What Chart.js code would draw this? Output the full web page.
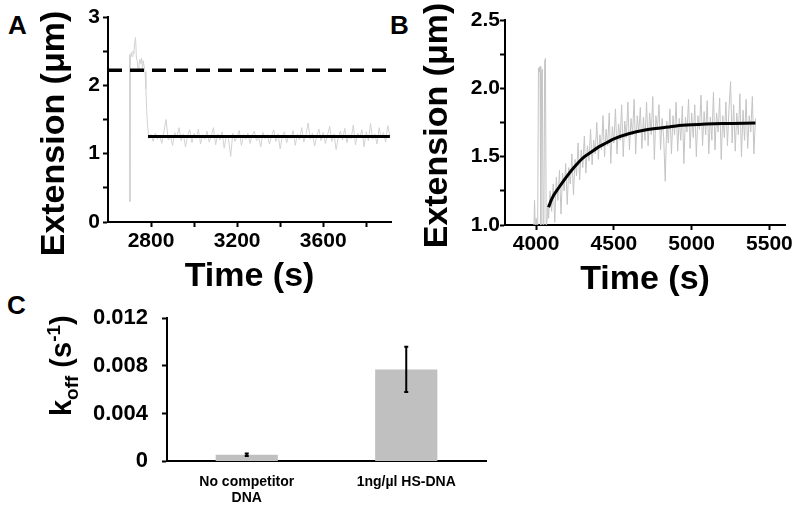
<!DOCTYPE html>
<html>
<head>
<meta charset="utf-8">
<script src="https://cdn.jsdelivr.net/npm/chart.js@4.4.0/dist/chart.umd.min.js"></script>
<style>
body { margin:0; width:800px; height:515px; background:#fff; position:relative; overflow:hidden; font-family:'Liberation Sans', Arial, sans-serif; }
canvas { position:absolute; }
.tag { position:absolute; font-weight:bold; font-size:26px; line-height:1; color:#000; }
</style>
</head>
<body>
<div class="tag" style="left:8px;top:12px">A</div>
<div class="tag" style="left:390px;top:12px">B</div>
<div class="tag" style="left:7px;top:292px">C</div>
<canvas id="chartA" width="400" height="297" style="left:0;top:0;width:400px;height:297px"></canvas>
<canvas id="chartB" width="400" height="300" style="left:400px;top:0;width:400px;height:300px"></canvas>
<canvas id="chartC" width="520" height="225" style="left:0;top:290px;width:520px;height:225px"></canvas>
<script>
// ---- panel A: extension trace before/after, with reference levels
var timeA = [2700, 2702, 2704, 2708, 2712, 2716, 2720, 2724, 2728, 2732, 2736, 2740, 2744, 2748, 2752, 2756, 2760, 2764, 2768, 2772, 2776, 2780, 2784,
  2790, 2800, 2810, 2820, 2830, 2840, 2850, 2860, 2870, 2880, 2890, 2900, 2910, 2920, 2930, 2940, 2950, 2960, 2970, 2980, 2990,
  3000, 3010, 3020, 3030, 3040, 3050, 3060, 3070, 3080, 3090, 3100, 3110, 3120, 3130, 3140, 3150, 3160, 3170, 3180, 3190,
  3200, 3210, 3220, 3230, 3240, 3250, 3260, 3270, 3280, 3290, 3300, 3310, 3320, 3330, 3340, 3350, 3360, 3370, 3380, 3390,
  3400, 3410, 3420, 3430, 3440, 3450, 3460, 3470, 3480, 3490, 3500, 3510, 3520, 3530, 3540, 3550, 3560, 3570, 3580, 3590,
  3600, 3610, 3620, 3630, 3640, 3650, 3660, 3670, 3680, 3690, 3700, 3710, 3720, 3730, 3740, 3750, 3760, 3770, 3780, 3790,
  3800, 3810, 3820, 3830, 3840, 3850, 3860, 3870, 3880, 3890, 3900, 3910];
var extA = [2.45, 0.30, 2.40, 2.48, 2.42, 2.50, 2.46, 2.62, 2.70, 2.40, 2.35, 2.22, 2.30, 2.38, 2.32, 2.40, 2.25, 2.36, 2.28, 2.20, 1.95, 1.62, 1.40,
  1.22, 1.28, 1.18, 1.30, 1.21, 1.27, 1.15, 1.33, 1.50, 1.20, 1.26, 1.12, 1.31, 1.24, 1.38, 1.19, 1.29, 1.10, 1.27, 1.35, 1.16,
  1.30, 1.22, 1.36, 1.14, 1.28, 1.21, 1.33, 1.17, 1.26, 1.38, 1.13, 1.29, 1.20, 1.32, 1.08, 1.27, 1.22, 0.96, 1.30, 1.18,
  1.25, 1.34, 1.12, 1.28, 1.21, 1.30, 1.15, 1.27, 1.33, 1.19, 1.24, 1.10, 1.31, 1.22, 1.28, 1.14, 1.26, 1.35, 1.18, 1.29,
  1.07, 1.25, 1.32, 1.16, 1.27, 1.22, 1.34, 1.12, 1.29, 1.20, 1.38, 1.17, 1.28, 1.45, 1.21, 1.30, 1.11, 1.26, 1.36, 1.19,
  1.31, 1.15, 1.27, 1.40, 1.18, 1.29, 1.06, 1.24, 1.33, 1.20, 1.37, 1.16, 1.28, 1.22, 1.42, 1.13, 1.30, 1.24, 1.35, 1.10,
  1.32, 1.19, 1.44, 1.21, 1.29, 1.14, 1.38, 1.23, 1.31, 1.17, 1.41, 1.26];
var dashTimeA = [2600, 3915];
var dashLevelA = [2.22, 2.22];
var fitTimeA = [2786, 3910];
var fitLevelA = [1.25, 1.25];
var ticksAx = [2800, 3000, 3200, 3400, 3600, 3800];
var labelsAx = [2800, 3200, 3600];
var ticksAy = [0, 0.5, 1, 1.5, 2, 2.5, 3];
var labelsAy = [0, 1, 2, 3];

// ---- panel B: recovery after competitor DNA, exponential fit
var timeB = [3985, 3990, 3995, 4000, 4010, 4015, 4020, 4025, 4030, 4035, 4040, 4045, 4050, 4055, 4060, 4065, 4070, 4075,
  4080, 4090, 4100, 4110, 4120, 4130, 4140, 4150, 4160, 4170, 4180, 4190, 4200, 4210, 4220, 4230, 4240, 4250, 4260, 4270, 4280, 4290,
  4300, 4310, 4320, 4330, 4340, 4350, 4360, 4370, 4380, 4390, 4400, 4410, 4420, 4430, 4440, 4450, 4460, 4470, 4480, 4490,
  4500, 4510, 4520, 4530, 4540, 4550, 4560, 4570, 4580, 4590, 4600, 4610, 4620, 4630, 4640, 4650, 4660, 4670, 4680, 4690,
  4700, 4710, 4720, 4730, 4740, 4750, 4760, 4770, 4780, 4790, 4800, 4810, 4820, 4830, 4840, 4850, 4860, 4870, 4880, 4890,
  4900, 4910, 4920, 4930, 4940, 4950, 4960, 4970, 4980, 4990, 5000, 5010, 5020, 5030, 5040, 5050, 5060, 5070, 5080, 5090,
  5100, 5110, 5120, 5130, 5140, 5150, 5160, 5170, 5180, 5190, 5200, 5210, 5220, 5230, 5240, 5250, 5260, 5270, 5280, 5290,
  5300, 5310, 5320, 5330, 5340, 5350, 5360, 5370, 5380, 5390, 5400, 5410];
var extB = [0.95, 1.18, 0.95, 1.05, 0.95, 2.15, 2.12, 2.16, 0.95, 2.10, 2.14, 0.95, 1.02, 2.20, 2.22, 0.95, 1.05, 1.15,
  1.05, 1.25, 1.10, 1.30, 1.02, 1.35, 1.18, 1.40, 1.08, 1.38, 1.25, 1.45, 1.15, 1.42, 1.30, 1.52, 1.22, 1.48, 1.36, 1.60, 1.33, 1.55,
  1.42, 1.65, 1.38, 1.58, 1.47, 1.70, 1.44, 1.62, 1.52, 1.75, 1.48, 1.66, 1.55, 1.80, 1.50, 1.70, 1.58, 1.82, 1.45, 1.72,
  1.60, 1.85, 1.52, 1.74, 1.62, 1.88, 1.50, 1.76, 1.64, 1.90, 1.55, 1.78, 1.66, 1.92, 1.52, 1.80, 1.68, 1.86, 1.56, 1.79,
  1.62, 1.90, 1.58, 1.82, 1.66, 1.94, 1.48, 1.80, 1.70, 1.88, 1.55, 1.78, 1.64, 1.32, 1.76, 1.60, 1.85, 1.52, 1.80, 1.66,
  1.90, 1.54, 1.78, 1.62, 1.87, 1.45, 1.79, 1.68, 1.92, 1.56, 1.82, 1.64, 1.88, 1.50, 1.80, 1.70, 1.95, 1.58, 1.83, 1.66,
  1.91, 1.52, 1.79, 1.62, 1.97, 1.55, 1.82, 1.68, 1.93, 1.48, 1.80, 1.64, 1.90, 1.58, 1.85, 2.05, 1.60, 1.88, 1.54, 1.82,
  1.66, 1.96, 1.50, 1.84, 1.62, 1.92, 1.56, 1.80, 1.68, 1.94, 1.52, 1.78];
var fitTimeB = [4080, 4100, 4150, 4200, 4250, 4300, 4350, 4400, 4450, 4500, 4600, 4700, 4800, 4900, 5000, 5200, 5410];
var fitLevelB = [1.13, 1.19, 1.28, 1.36, 1.43, 1.49, 1.53, 1.57, 1.60, 1.63, 1.67, 1.695, 1.71, 1.725, 1.733, 1.742, 1.746];
var ticksBx = [4000, 4250, 4500, 4750, 5000, 5250, 5500];
var labelsBx = [4000, 4500, 5000, 5500];
var ticksBy = [1, 1.25, 1.5, 1.75, 2, 2.25, 2.5];
var labelsBy = [1, 1.5, 2, 2.5];

// ---- panel C: off rates
var conditions = [['No competitor', 'DNA'], '1ng/µl HS-DNA'];
var koff = [0.00056, 0.0077];
var koffErr = [0.0001, 0.0019];

var FONT = "'Liberation Sans', Arial, sans-serif";
Chart.defaults.font.family = FONT;
Chart.defaults.font.weight = 'bold';
Chart.defaults.color = '#000';

function pts(xs, ys) {
  return xs.map(function (x, i) { return { x: x, y: ys[i] }; });
}
function setTicks(values) {
  return function (scale) { scale.ticks = values.map(function (v) { return { value: v }; }); };
}
function setWidth(w) {
  return function (scale) { scale.width = w; };
}
var axisBorder = { display: true, color: '#000', width: 2 };
var axisGrid = { drawOnChartArea: false, drawTicks: true, tickLength: 5, tickColor: '#000', tickWidth: 2 };

// rotated y title, placed by hand so it can sit off-centre like the original
var sideTitle = {
  id: 'sideTitle',
  afterDraw: function (chart, args, o) {
    var ctx = chart.ctx, a = chart.chartArea;
    ctx.save();
    ctx.font = 'bold ' + o.size + 'px ' + FONT;
    ctx.fillStyle = '#000';
    ctx.textAlign = 'center';
    ctx.textBaseline = 'middle';
    ctx.translate(o.x, (a.top + a.bottom) / 2 + o.shift);
    ctx.rotate(-Math.PI / 2);
    ctx.fillText(o.text, 0, 0);
    ctx.restore();
  }
};

new Chart(document.getElementById('chartA'), {
  type: 'line',
  data: {
    datasets: [
      { data: pts(dashTimeA, dashLevelA), borderColor: '#000', borderWidth: 3.5, borderDash: [14, 8], pointRadius: 0, order: 1 },
      { data: pts(fitTimeA, fitLevelA), borderColor: '#000', borderWidth: 3, pointRadius: 0, order: 1 },
      { data: pts(timeA, extA), borderColor: '#d2d2d2', borderWidth: 1, pointRadius: 0, order: 2 }
    ]
  },
  options: {
    responsive: false,
    animation: false,
    layout: { padding: { left: 0, top: 17, right: 9, bottom: 0 } },
    plugins: {
      legend: { display: false }, tooltip: { enabled: false },
      sideTitle: { text: 'Extension (μm)', size: 34, x: 55, shift: 14 }
    },
    scales: {
      x: {
        type: 'linear', min: 2600, max: 3915,
        border: axisBorder, grid: axisGrid,
        afterBuildTicks: setTicks(ticksAx),
        ticks: { padding: 2, maxRotation: 0, font: { size: 21 },
          callback: function (v) { return labelsAx.indexOf(v) >= 0 ? String(v) : ''; } },
        title: { display: true, text: 'Time (s)', font: { size: 34 }, padding: 0 }
      },
      y: {
        min: 0, max: 3,
        border: axisBorder, grid: axisGrid,
        afterBuildTicks: setTicks(ticksAy),
        afterFit: setWidth(108),
        ticks: { padding: 3, font: { size: 21 },
          callback: function (v) { return labelsAy.indexOf(v) >= 0 ? String(v) : ''; } }
      }
    }
  },
  plugins: [sideTitle]
});

new Chart(document.getElementById('chartB'), {
  type: 'line',
  data: {
    datasets: [
      { data: pts(fitTimeB, fitLevelB), borderColor: '#000', borderWidth: 3, pointRadius: 0, tension: 0.4, cubicInterpolationMode: 'monotone', order: 1 },
      { data: pts(timeB, extB), borderColor: '#c4c4c4', borderWidth: 1, pointRadius: 0, order: 2 }
    ]
  },
  options: {
    responsive: false,
    animation: false,
    layout: { padding: { left: 0, top: 20, right: 15, bottom: 0 } },
    plugins: {
      legend: { display: false }, tooltip: { enabled: false },
      sideTitle: { text: 'Extension (μm)', size: 34, x: 38, shift: 3 }
    },
    scales: {
      x: {
        type: 'linear', min: 3800, max: 5600,
        border: axisBorder, grid: axisGrid,
        afterBuildTicks: setTicks(ticksBx),
        ticks: { padding: 2, maxRotation: 0, font: { size: 21 },
          callback: function (v) { return labelsBx.indexOf(v) >= 0 ? String(v) : ''; } },
        title: { display: true, text: 'Time (s)', font: { size: 34 }, padding: 0 }
      },
      y: {
        min: 1, max: 2.5,
        border: axisBorder, grid: axisGrid,
        afterBuildTicks: setTicks(ticksBy),
        afterFit: setWidth(105),
        ticks: { padding: 0, font: { size: 21 },
          callback: function (v) { return labelsBy.indexOf(v) >= 0 ? v.toFixed(1) : ''; } }
      }
    }
  },
  plugins: [sideTitle]
});

// error bars on top of the bars
var errorBars = {
  id: 'errorBars',
  afterDatasetsDraw: function (chart) {
    var ctx = chart.ctx, y = chart.scales.y;
    var meta = chart.getDatasetMeta(0);
    ctx.save();
    ctx.strokeStyle = '#000';
    ctx.lineWidth = 2;
    meta.data.forEach(function (bar, i) {
      var top = y.getPixelForValue(koff[i] + koffErr[i]);
      var bot = y.getPixelForValue(koff[i] - koffErr[i]);
      ctx.beginPath();
      ctx.moveTo(bar.x, top); ctx.lineTo(bar.x, bot);
      ctx.moveTo(bar.x - 2, top); ctx.lineTo(bar.x + 2, top);
      ctx.moveTo(bar.x - 2, bot); ctx.lineTo(bar.x + 2, bot);
      ctx.stroke();
    });
    ctx.restore();
  }
};

// y title with subscript and superscript
var koffTitle = {
  id: 'koffTitle',
  afterDraw: function (chart) {
    var ctx = chart.ctx, a = chart.chartArea;
    var big = 'bold 29px ' + FONT, small = 'bold 19px ' + FONT;
    var parts = [['k', big, 0], ['off', small, 7], [' (s', big, 0], ['-1', small, -11], [')', big, 0]];
    var total = 0;
    ctx.save();
    parts.forEach(function (p) { ctx.font = p[1]; total += ctx.measureText(p[0]).width; });
    ctx.translate(a.left - 96, (a.top + a.bottom) / 2 - 24);
    ctx.rotate(-Math.PI / 2);
    ctx.fillStyle = '#000';
    ctx.textBaseline = 'alphabetic';
    var x = -total / 2;
    parts.forEach(function (p) {
      ctx.font = p[1];
      ctx.fillText(p[0], x, p[2]);
      x += ctx.measureText(p[0]).width;
    });
    ctx.restore();
  }
};

new Chart(document.getElementById('chartC'), {
  type: 'bar',
  data: {
    labels: conditions,
    datasets: [{ data: koff, backgroundColor: '#c0c0c0', borderWidth: 0, categoryPercentage: 1, barPercentage: 0.39 }]
  },
  options: {
    responsive: false,
    animation: false,
    layout: { padding: { left: 0, top: 28, right: 34, bottom: 4 } },
    plugins: { legend: { display: false }, tooltip: { enabled: false } },
    scales: {
      x: {
        border: axisBorder,
        grid: { display: false },
        ticks: { padding: 4, font: { size: 14 } }
      },
      y: {
        min: 0, max: 0.012,
        border: axisBorder, grid: axisGrid,
        afterBuildTicks: setTicks([0, 0.004, 0.008, 0.012]),
        afterFit: setWidth(167),
        ticks: { padding: 14, font: { size: 22 },
          callback: function (v) { return v === 0 ? '0' : v.toFixed(3); } }
      }
    }
  },
  plugins: [errorBars, koffTitle]
});
</script>
</body>
</html>
